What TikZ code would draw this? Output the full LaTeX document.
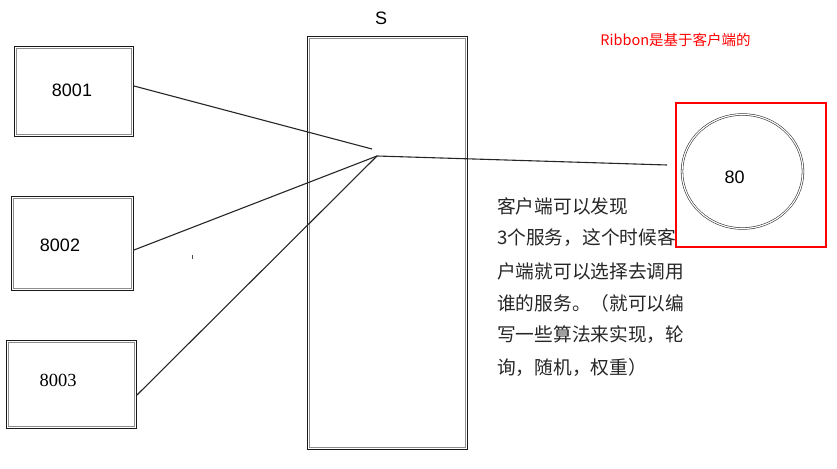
\documentclass[tikz,border=0pt]{standalone}
\usepackage{fontspec}
\setmainfont{Liberation Sans}
\newfontfamily\cjk{Noto Sans CJK SC}
\usetikzlibrary{calc,shapes.geometric}
\begin{document}
\begin{tikzpicture}[x=1pt,y=-1pt,
  dbl/.style={draw=black!85, double=white, double distance=1.2pt, line width=0.55pt},
  srvbox/.style={draw=black!90, line width=1pt, shape=rectangle, inner sep=0pt},
  innerline/.style={draw=black!45, line width=0.8pt},
  conn/.style={draw=black!85, line width=1.1pt},
  numtxt/.style={font=\fontsize{18}{20}\selectfont, inner sep=0pt},
  note/.style={font=\cjk\fontsize{18.7}{22}\selectfont, anchor=west, inner sep=0pt, text=black!85}]
\useasboundingbox (0,0) rectangle (837,468);
% server boxes
\node[srvbox, minimum width=119pt, minimum height=90pt] (n1) at (74,91.5) {};
\node[srvbox, minimum width=122pt, minimum height=94pt] (n2) at (72.5,243.5) {};
\node[srvbox, minimum width=130pt, minimum height=88pt] (n3) at (71.5,384.5) {};
\foreach \b in {n1,n2,n3} {
  \draw[innerline] ($(\b.north west)+(2.5,2.5)$) rectangle ($(\b.south east)+(-2.5,-2.5)$);
}
\node[numtxt] (t1) at (72,90) {8001};
\node[numtxt] (t2) at (60,245.5) {8002};
\node[numtxt, font=\fontspec{Liberation Serif}\fontsize{18.5}{20}\selectfont] (t3) at (58,380.5) {8003};
% S box
\node[srvbox, minimum width=160pt, minimum height=413pt] (s) at (387.5,243) {};
\draw[innerline] ($(s.north west)+(2.5,2.5)$) rectangle ($(s.south east)+(-2.5,-2.5)$);
\node[numtxt] (sl) at (381,18) {S};
% junction and connectors
\coordinate (j1) at (372,149);
\coordinate (j) at (377,156);
\coordinate (e) at (667,165);
\draw[conn] ($(n1.east)+(0,-5.5)$) -- (j1);
\draw[conn] ($(n2.east)+(0,6.5)$) -- (j);
\draw[conn] ($(n3.east)+(0,10.5)$) -- (j);
\draw[conn] (j) -- (e);
% client
\node[draw=red, line width=2pt, shape=rectangle, minimum width=150pt, minimum height=144pt, inner sep=0pt] (rb) at (751,175) {};
\node[dbl, ellipse, minimum width=121pt, minimum height=114pt, inner sep=0pt] (c) at (742.5,171.5) {};
\node[numtxt] (t80) at (734.5,177) {80};
% red note
\node[font=\cjk\fontsize{14.5}{16}\selectfont, text=red, inner sep=0pt] (rn) at (675.5,40) {Ribbon是基于客户端的};
% explanation
\node[note] (l1) at (497,206.5) {客户端可以发现};
\node[note] (l2) at (497,238) {3个服务，这个时候客};
\node[note] (l3) at (497,271) {户端就可以选择去调用};
\node[note] (l4) at (497,303) {谁的服务。（就可以编};
\node[note] (l5) at (497,335) {写一些算法来实现，轮};
\node[note] (l6) at (497,367) {询，随机，权重）};
% stray dot
\fill[black!70] (191.5,254.5) rectangle (193,259);
\end{tikzpicture}
\end{document}
